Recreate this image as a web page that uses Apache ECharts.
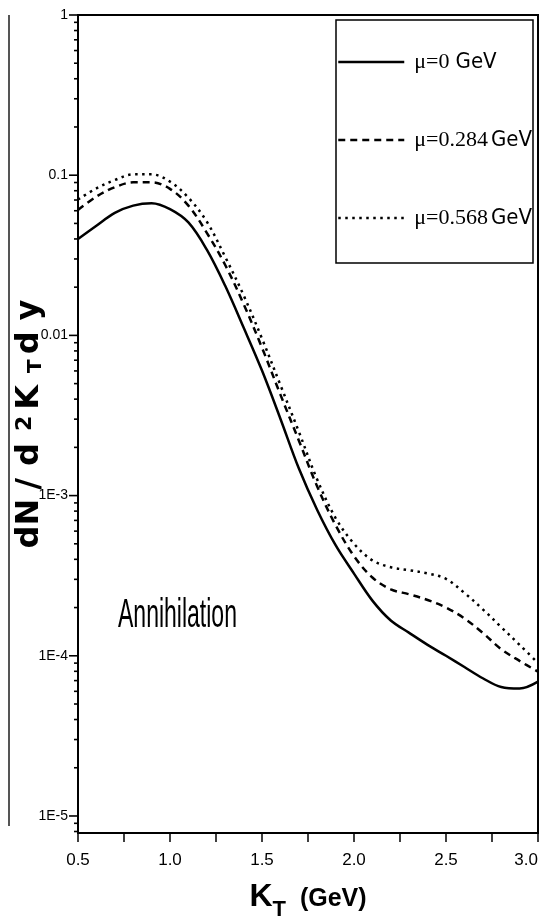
<!DOCTYPE html>
<html><head><meta charset="utf-8">
<script src="https://cdn.jsdelivr.net/npm/echarts@6/dist/echarts.min.js"></script>
<style>html,body{margin:0;padding:0;background:#fff}#c{width:546px;height:923px}</style>
</head><body><div id="c"></div>
<script>
// ---- data ----
const kT = [0.5,0.6,0.7,0.8,0.9,1.0,1.1,1.2,1.3,1.4,1.5,1.6,1.7,1.8,1.9,2.0,2.1,2.2,2.3,2.4,2.5,2.6,2.7,2.8,2.9,3.0];
const mu0 = [0.0400,0.0484,0.0582,0.0646,0.0668,0.0614,0.0507,0.0343,0.0204,0.0112,0.00603,0.00302,0.00148,8.13e-4,4.90e-4,3.26e-4,2.21e-4,1.66e-4,1.39e-4,1.17e-4,1.00e-4,8.51e-5,7.24e-5,6.38e-5,6.24e-5,6.89e-5];
const mu284 = [0.0607,0.0735,0.0841,0.0902,0.0902,0.0822,0.0646,0.0437,0.0275,0.0157,0.00838,0.00427,0.00221,0.00114,6.53e-4,4.19e-4,3.08e-4,2.60e-4,2.42e-4,2.23e-4,2.00e-4,1.71e-4,1.39e-4,1.10e-4,9.29e-5,7.96e-5];
const mu568 = [0.0705,0.0828,0.0933,0.1012,0.1012,0.0912,0.0724,0.0513,0.0309,0.0178,0.00955,0.00490,0.00251,0.00126,7.24e-4,5.01e-4,3.94e-4,3.57e-4,3.42e-4,3.27e-4,3.02e-4,2.47e-4,1.95e-4,1.51e-4,1.17e-4,9.02e-5];
const seriesNames = ['μ=0  GeV','μ=0.284 GeV','μ=0.568 GeV'];
const xLabelValues = [0.5,1.0,1.5,2.0,2.5,3.0];
const yDecadeLabels = {'0':'1','-1':'0.1','-2':'0.01','-3':'1E-3','-4':'1E-4','-5':'1E-5'};
const yMajorTicks = [1e-5,1e-4,1e-3,1e-2,1e-1,1];
const yMinorMantissas = [2,3,4,5,6,7,8,9];
const yMinorDecades = [1e-5,1e-4,1e-3,1e-2,1e-1];
const yExtraMinor = [8e-6,9e-6];
const xRange = [0.5,3.0];
const yRange = [7.83e-6,1];
const annotation = 'Annihilation';

const SANS = '"Liberation Sans",Arial,sans-serif';
const DJ = '"DejaVu Sans",sans-serif';
const COND = '"DejaVu Sans Condensed","Liberation Sans",sans-serif';
const SERIF = '"Liberation Serif","Times New Roman",serif';

const yTickData = [];
yMajorTicks.forEach(v => yTickData.push([xRange[0], v, 1]));
yMinorDecades.forEach(d => yMinorMantissas.forEach(m => yTickData.push([xRange[0], m*d, 0])));
yExtraMinor.forEach(v => yTickData.push([xRange[0], v, 0]));

const pairs = arr => kT.map((k,i) => [k, arr[i]]);
const lineStyles = [
  {color:'#000', width:2.5, type:'solid'},
  {color:'#000', width:2.5, type:[7,5]},
  {color:'#000', width:2.5, type:[2.5,4.5]}
];
const seriesData = [mu0, mu284, mu568];

const yn = (fs, pad, va, lh) => ({fontFamily:DJ, fontWeight:'bold', fontSize:fs, lineHeight:lh||32, verticalAlign:va||'middle', color:'#000', padding:[0,pad,0,0]});

const chart = echarts.init(document.getElementById('c'), null, {renderer:'canvas'});
const option = {
  backgroundColor:'#fff',
  animation:false,
  grid:{left:78, right:8, top:15, bottom:90, containLabel:false, outerBoundsMode:'none',
        show:true, borderColor:'#000', borderWidth:2, backgroundColor:'transparent'},
  legend:{
    orient:'vertical', left:337, top:50, padding:0, itemGap:54, itemWidth:66, itemHeight:30,
    data:seriesNames,
    itemStyle:{color:'rgba(0,0,0,0)', borderWidth:0, opacity:0},
    lineStyle:{width:2.5},
    formatter: function(name){
      const m = name.match(/^(μ=[\d.]+)(\s+)(GeV)$/);
      return '{s|' + m[1] + '}{sp|' + m[2].replace(/ /g,'\u00a0') + '}{g|' + m[3] + '}';
    },
    textStyle:{
      color:'#000', padding:[0,0,0,5],
      rich:{
        s:{fontFamily:SERIF, fontSize:22, color:'#000', lineHeight:30},
        sp:{fontFamily:SANS, fontSize:11, lineHeight:30},
        g:{fontFamily:COND, fontSize:22, color:'#000', lineHeight:30}
      }
    }
  },
  xAxis:{
    type:'value', min:xRange[0], max:xRange[1], interval:0.25,
    axisLine:{onZero:false, lineStyle:{color:'#000', width:2}},
    axisTick:{show:true, length:9, lineStyle:{color:'#000', width:1.5}},
    splitLine:{show:false},
    axisLabel:{
      color:'#000', fontFamily:SANS, fontSize:17, margin:19, alignMaxLabel:'right',
      formatter: v => xLabelValues.some(x => Math.abs(x - v) < 1e-6) ? v.toFixed(1) : ''
    },
    name:'{k|K}{t|T}{n|\u00a0\u00a0(GeV)}',
    nameLocation:'middle', nameGap:48, nameMoveOverlap:false,
    nameTextStyle:{
      rich:{
        k:{fontFamily:SANS, fontWeight:'bold', fontSize:32, lineHeight:40, verticalAlign:'top', color:'#000'},
        t:{fontFamily:SANS, fontWeight:'bold', fontSize:22, lineHeight:22, verticalAlign:'bottom', color:'#000'},
        n:{fontFamily:SANS, fontWeight:'bold', fontSize:25, lineHeight:40, verticalAlign:'top', color:'#000', padding:[6,0,0,0]}
      }
    }
  },
  yAxis:{
    type:'log', logBase:10, min:yRange[0], max:yRange[1],
    axisLine:{show:true, lineStyle:{color:'#000', width:1.5}},
    axisTick:{show:false},
    minorTick:{show:false},
    splitLine:{show:false},
    axisLabel:{
      color:'#000', fontFamily:SANS, fontSize:14, margin:10,
      formatter: function(v){
        const l = Math.log10(v);
        const r = Math.round(l);
        if (Math.abs(l - r) > 1e-6) return '';
        return yDecadeLabels[String(r)] || '';
      }
    },
    name:'{a|d}{b|N}{c|/}{d|d}{e|2}{f|K}{g|T}{h|d}{i|y}',
    nameLocation:'middle', nameRotate:90, nameGap:32, nameMoveOverlap:false,
    nameTextStyle:{
      rich:{
        a:yn(32,0), b:yn(32,9), c:yn(32,12), d:yn(32,12), e:yn(22,6,'top',22),
        f:yn(32,12), g:yn(20,5,'bottom',20), h:yn(32,11), i:yn(32,0)
      }
    }
  },
  series: seriesNames.map((n,i) => ({
    name:n, type:'line', data:pairs(seriesData[i]), smooth:0.35, symbol:'none', showSymbol:false,
    lineStyle:lineStyles[i], itemStyle:{color:'#000'}, clip:true, z:3
  })).concat([{
    name:'yticks', type:'custom', coordinateSystem:'cartesian2d', data:yTickData, clip:false, silent:true, z:5,
    encode:{x:0, y:1},
    renderItem: function(params, api){
      const p = api.coord([api.value(0), api.value(1)]);
      const len = api.value(2) ? 9 : 4;
      return {type:'line', shape:{x1:p[0]-len, y1:p[1], x2:p[0], y2:p[1]}, style:{stroke:'#000', lineWidth:1.6}};
    }
  }]),
  graphic:[
    {type:'line', shape:{x1:9, y1:15, x2:9, y2:826}, style:{stroke:'#555', lineWidth:2}, silent:true},
    {type:'rect', shape:{x:336, y:20, width:197, height:243}, style:{fill:'transparent', stroke:'#000', lineWidth:1.5}, silent:true, z:10},
    {type:'text', x:118, y:596, scaleX:0.575, originX:0, originY:0,
     style:{text:annotation, font:'40px "Liberation Sans", Arial, sans-serif', fill:'#000', verticalAlign:'top', align:'left'}, silent:true}
  ]
};
chart.setOption(option);
</script>
</body></html>
